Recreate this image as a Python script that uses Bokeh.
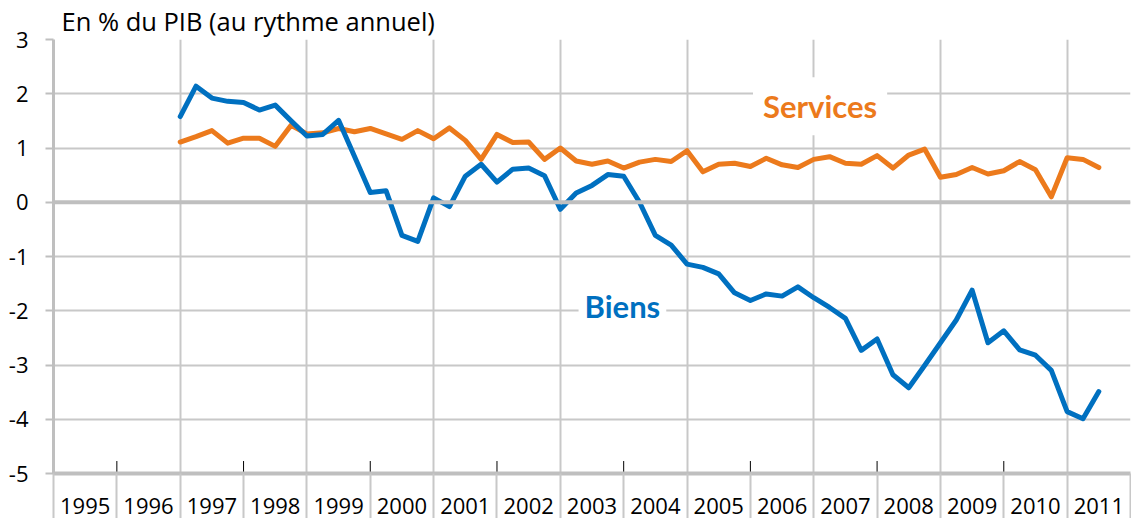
from bokeh.plotting import figure
from bokeh.models import Range1d, FixedTicker, Label, Span
from bokeh.embed import file_html
from bokeh.resources import INLINE

# ---- data (quarterly, 1997T1 .. 2011T3), % of GDP ----
first_year = 1997
services = [1.11, 1.21, 1.32, 1.09, 1.18, 1.18, 1.03, 1.42,
            1.26, 1.28, 1.36, 1.30, 1.36, 1.26, 1.16, 1.32,
            1.17, 1.37, 1.14, 0.79, 1.25, 1.10, 1.11, 0.79,
            1.00, 0.76, 0.70, 0.76, 0.63, 0.74, 0.79, 0.75,
            0.95, 0.56, 0.70, 0.72, 0.66, 0.81, 0.69, 0.64,
            0.79, 0.84, 0.72, 0.70, 0.86, 0.63, 0.87, 0.98,
            0.46, 0.51, 0.64, 0.52, 0.58, 0.75, 0.60, 0.10,
            0.82, 0.79, 0.64]
biens = [1.58, 2.14, 1.92, 1.86, 1.84, 1.70, 1.79, 1.50,
         1.22, 1.25, 1.51, 0.85, 0.18, 0.21, -0.61, -0.72,
         0.08, -0.08, 0.48, 0.70, 0.37, 0.61, 0.63, 0.49,
         -0.13, 0.17, 0.31, 0.51, 0.48, 0.00, -0.61, -0.79,
         -1.14, -1.20, -1.32, -1.67, -1.81, -1.69, -1.73, -1.56,
         -1.76, -1.94, -2.14, -2.73, -2.52, -3.18, -3.42, -3.01,
         -2.59, -2.17, -1.62, -2.59, -2.37, -2.72, -2.82, -3.10,
         -3.86, -3.99, -3.49]
years = list(range(1995, 2012))
year_labels = [str(y) for y in years]
y_ticks = [-5, -4, -3, -2, -1, 0, 1, 2, 3]
y_tick_labels = [str(v) for v in y_ticks]

x = [first_year + i / 4 for i in range(len(services))]

BLUE = "#0070C0"
ORANGE = "#EC7A1C"
GRID = "#c8c8c8"
AXIS = "#bfbfbf"
FONT = "Open Sans"
LABEL_FONT = "Lato"

p = figure(width=1131, height=518,
           x_range=Range1d(years[0], years[-1] + 1), y_range=Range1d(y_ticks[0], y_ticks[-1]),
           output_backend="svg", toolbar_location=None,
           min_border_left=53, min_border_right=1, min_border_top=36, min_border_bottom=45)
p.outline_line_color = None

p.title.text = "En % du PIB (au rythme annuel)"
p.title.text_font = FONT
p.title.text_font_size = "25.5px"
p.title.text_font_style = "normal"
p.title.text_color = "black"
p.title.align = "left"
p.title.standoff = 3
p.title.offset = 8

# grids
p.xgrid.ticker = FixedTicker(ticks=years[2::2])
p.xgrid.grid_line_color = GRID
p.xgrid.grid_line_width = 2
p.ygrid.ticker = FixedTicker(ticks=y_ticks)
p.ygrid.grid_line_color = GRID
p.ygrid.grid_line_width = 2
p.add_layout(Span(location=0, dimension="width", line_color=AXIS, line_width=4))

# y axis
ya = p.yaxis[0]
ya.ticker = FixedTicker(ticks=y_ticks)
ya.major_label_overrides = {v: s for v, s in zip(y_ticks, y_tick_labels)}
ya.axis_line_color = AXIS
ya.axis_line_width = 3
ya.major_tick_line_color = AXIS
ya.major_tick_line_width = 2
ya.major_tick_out = 8
ya.major_tick_in = 0
ya.minor_tick_line_color = None
ya.major_label_standoff = 17
ya.major_label_text_font = FONT
ya.major_label_text_font_size = "22px"
ya.major_label_text_color = "black"

# x axis: labels centered in each year, separators between years
xa = p.xaxis[0]
centers = [y + 0.5 for y in years]
xa.ticker = FixedTicker(ticks=centers, minor_ticks=years + [years[-1] + 1])
xa.major_label_overrides = {c: lab for c, lab in zip(centers, year_labels)}
xa.major_tick_line_color = None
xa.major_tick_out = 0
xa.major_tick_in = 0
xa.minor_tick_line_color = GRID
xa.minor_tick_line_width = 2
xa.minor_tick_out = 46
xa.minor_tick_in = 0
xa.axis_line_color = AXIS
xa.axis_line_width = 4
xa.major_label_standoff = -22
xa.major_label_text_font = FONT
xa.major_label_text_font_size = "22px"
xa.major_label_text_color = "black"

# short inner ticks at even year boundaries
inner = years[1:-1:2]
p.segment(x0=inner, y0=[y_ticks[0]] * len(inner), x1=inner,
          y1=[y_ticks[0] + 0.23] * len(inner), line_color="black", line_width=1)

# series
p.line(x, services, line_color=ORANGE, line_width=5, line_join="round", line_cap="round")
p.line(x, biens, line_color=BLUE, line_width=5, line_join="round", line_cap="round")

# labels
p.add_layout(Label(x=2007.1, y=1.77, text="Services", text_color=ORANGE,
                   text_font=LABEL_FONT, text_font_size="31px", text_font_style="bold",
                   text_align="center", text_baseline="middle",
                   background_fill_color="white", padding=10))
p.add_layout(Label(x=2003.98, y=-1.91, text="Biens", text_color=BLUE,
                   text_font=LABEL_FONT, text_font_size="31px", text_font_style="bold",
                   text_align="center", text_baseline="middle",
                   background_fill_color="white", padding=6))

open("out.html", "w").write(file_html(p, INLINE))
